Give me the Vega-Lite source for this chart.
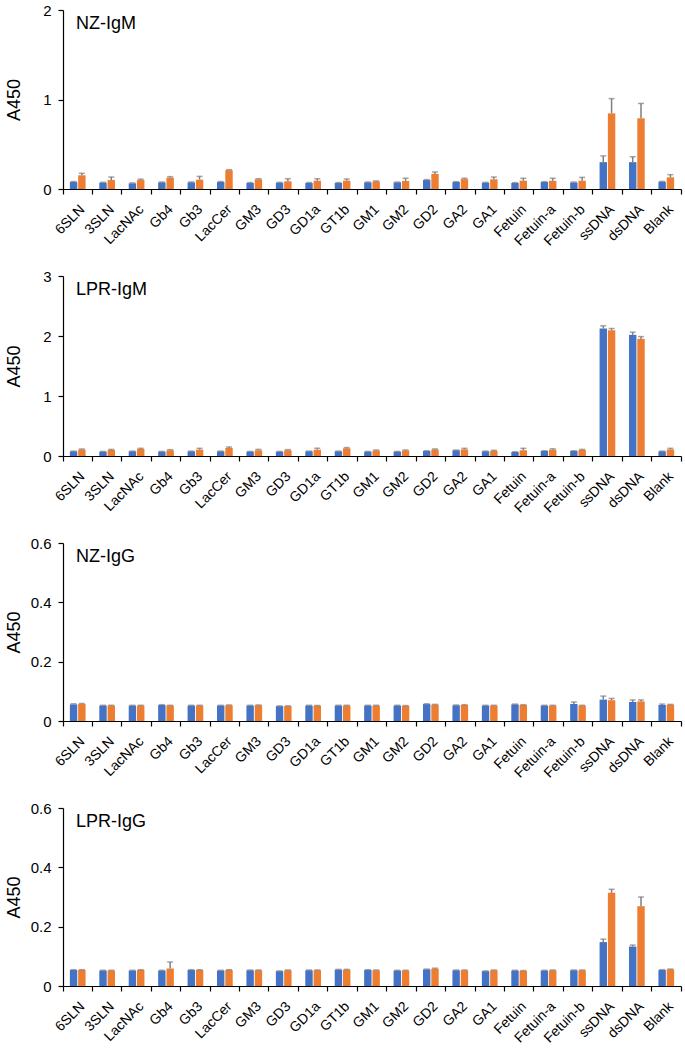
{
"$schema": "https://vega.github.io/schema/vega-lite/v6.json",
"padding": {"left": 5, "top": 3, "right": 5, "bottom": 0},
"spacing": 20,
"datasets": {
"nzm": [
{"c":"6SLN","g":"a","v":0.078,"e":0.083},{"c":"6SLN","g":"b","v":0.153,"e":0.175},
{"c":"3SLN","g":"a","v":0.07,"e":0.075},{"c":"3SLN","g":"b","v":0.10,"e":0.134},
{"c":"LacNAc","g":"a","v":0.063,"e":0.068},{"c":"LacNAc","g":"b","v":0.10,"e":0.11},
{"c":"Gb4","g":"a","v":0.074,"e":0.078},{"c":"Gb4","g":"b","v":0.127,"e":0.138},
{"c":"Gb3","g":"a","v":0.074,"e":0.079},{"c":"Gb3","g":"b","v":0.104,"e":0.141},
{"c":"LacCer","g":"a","v":0.078,"e":0.083},{"c":"LacCer","g":"b","v":0.21,"e":0.216},
{"c":"GM3","g":"a","v":0.067,"e":0.072},{"c":"GM3","g":"b","v":0.108,"e":0.115},
{"c":"GD3","g":"a","v":0.07,"e":0.074},{"c":"GD3","g":"b","v":0.086,"e":0.115},
{"c":"GD1a","g":"a","v":0.067,"e":0.072},{"c":"GD1a","g":"b","v":0.093,"e":0.115},
{"c":"GT1b","g":"a","v":0.067,"e":0.072},{"c":"GT1b","g":"b","v":0.093,"e":0.112},
{"c":"GM1","g":"a","v":0.074,"e":0.078},{"c":"GM1","g":"b","v":0.085,"e":0.09},
{"c":"GM2","g":"a","v":0.074,"e":0.078},{"c":"GM2","g":"b","v":0.089,"e":0.12},
{"c":"GD2","g":"a","v":0.10,"e":0.105},{"c":"GD2","g":"b","v":0.168,"e":0.19},
{"c":"GA2","g":"a","v":0.078,"e":0.082},{"c":"GA2","g":"b","v":0.11,"e":0.12},
{"c":"GA1","g":"a","v":0.07,"e":0.074},{"c":"GA1","g":"b","v":0.108,"e":0.134},
{"c":"Fetuin","g":"a","v":0.067,"e":0.071},{"c":"Fetuin","g":"b","v":0.093,"e":0.12},
{"c":"Fetuin-a","g":"a","v":0.078,"e":0.082},{"c":"Fetuin-a","g":"b","v":0.092,"e":0.12},
{"c":"Fetuin-b","g":"a","v":0.074,"e":0.078},{"c":"Fetuin-b","g":"b","v":0.092,"e":0.13},
{"c":"ssDNA","g":"a","v":0.30,"e":0.37},{"c":"ssDNA","g":"b","v":0.845,"e":1.01},
{"c":"dsDNA","g":"a","v":0.30,"e":0.36},{"c":"dsDNA","g":"b","v":0.79,"e":0.956},
{"c":"Blank","g":"a","v":0.08,"e":0.085},{"c":"Blank","g":"b","v":0.13,"e":0.16}
],
"lprm": [
{"c":"6SLN","g":"a","v":0.078,"e":0.082},{"c":"6SLN","g":"b","v":0.106,"e":0.117},
{"c":"3SLN","g":"a","v":0.072,"e":0.076},{"c":"3SLN","g":"b","v":0.10,"e":0.11},
{"c":"LacNAc","g":"a","v":0.078,"e":0.082},{"c":"LacNAc","g":"b","v":0.117,"e":0.128},
{"c":"Gb4","g":"a","v":0.072,"e":0.076},{"c":"Gb4","g":"b","v":0.095,"e":0.106},
{"c":"Gb3","g":"a","v":0.078,"e":0.082},{"c":"Gb3","g":"b","v":0.106,"e":0.128},
{"c":"LacCer","g":"a","v":0.078,"e":0.082},{"c":"LacCer","g":"b","v":0.134,"e":0.15},
{"c":"GM3","g":"a","v":0.072,"e":0.076},{"c":"GM3","g":"b","v":0.095,"e":0.11},
{"c":"GD3","g":"a","v":0.072,"e":0.076},{"c":"GD3","g":"b","v":0.095,"e":0.106},
{"c":"GD1a","g":"a","v":0.078,"e":0.082},{"c":"GD1a","g":"b","v":0.106,"e":0.128},
{"c":"GT1b","g":"a","v":0.078,"e":0.082},{"c":"GT1b","g":"b","v":0.128,"e":0.14},
{"c":"GM1","g":"a","v":0.072,"e":0.076},{"c":"GM1","g":"b","v":0.09,"e":0.10},
{"c":"GM2","g":"a","v":0.072,"e":0.076},{"c":"GM2","g":"b","v":0.09,"e":0.10},
{"c":"GD2","g":"a","v":0.084,"e":0.088},{"c":"GD2","g":"b","v":0.106,"e":0.117},
{"c":"GA2","g":"a","v":0.095,"e":0.099},{"c":"GA2","g":"b","v":0.11,"e":0.128},
{"c":"GA1","g":"a","v":0.078,"e":0.082},{"c":"GA1","g":"b","v":0.084,"e":0.095},
{"c":"Fetuin","g":"a","v":0.067,"e":0.071},{"c":"Fetuin","g":"b","v":0.095,"e":0.128},
{"c":"Fetuin-a","g":"a","v":0.084,"e":0.088},{"c":"Fetuin-a","g":"b","v":0.106,"e":0.12},
{"c":"Fetuin-b","g":"a","v":0.084,"e":0.088},{"c":"Fetuin-b","g":"b","v":0.10,"e":0.11},
{"c":"ssDNA","g":"a","v":2.125,"e":2.17},{"c":"ssDNA","g":"b","v":2.097,"e":2.125},
{"c":"dsDNA","g":"a","v":2.019,"e":2.064},{"c":"dsDNA","g":"b","v":1.952,"e":1.99},
{"c":"Blank","g":"a","v":0.078,"e":0.082},{"c":"Blank","g":"b","v":0.11,"e":0.128}
],
"nzg": [
{"c":"6SLN","g":"a","v":0.056,"e":0.058},{"c":"6SLN","g":"b","v":0.057,"e":0.059},
{"c":"3SLN","g":"a","v":0.052,"e":0.053},{"c":"3SLN","g":"b","v":0.052,"e":0.053},
{"c":"LacNAc","g":"a","v":0.052,"e":0.053},{"c":"LacNAc","g":"b","v":0.052,"e":0.053},
{"c":"Gb4","g":"a","v":0.054,"e":0.055},{"c":"Gb4","g":"b","v":0.052,"e":0.053},
{"c":"Gb3","g":"a","v":0.052,"e":0.053},{"c":"Gb3","g":"b","v":0.052,"e":0.053},
{"c":"LacCer","g":"a","v":0.052,"e":0.053},{"c":"LacCer","g":"b","v":0.053,"e":0.054},
{"c":"GM3","g":"a","v":0.052,"e":0.053},{"c":"GM3","g":"b","v":0.053,"e":0.054},
{"c":"GD3","g":"a","v":0.05,"e":0.051},{"c":"GD3","g":"b","v":0.05,"e":0.051},
{"c":"GD1a","g":"a","v":0.052,"e":0.053},{"c":"GD1a","g":"b","v":0.051,"e":0.052},
{"c":"GT1b","g":"a","v":0.052,"e":0.053},{"c":"GT1b","g":"b","v":0.052,"e":0.053},
{"c":"GM1","g":"a","v":0.052,"e":0.053},{"c":"GM1","g":"b","v":0.052,"e":0.053},
{"c":"GM2","g":"a","v":0.052,"e":0.053},{"c":"GM2","g":"b","v":0.051,"e":0.052},
{"c":"GD2","g":"a","v":0.057,"e":0.058},{"c":"GD2","g":"b","v":0.055,"e":0.056},
{"c":"GA2","g":"a","v":0.053,"e":0.054},{"c":"GA2","g":"b","v":0.054,"e":0.055},
{"c":"GA1","g":"a","v":0.052,"e":0.053},{"c":"GA1","g":"b","v":0.052,"e":0.053},
{"c":"Fetuin","g":"a","v":0.056,"e":0.057},{"c":"Fetuin","g":"b","v":0.054,"e":0.055},
{"c":"Fetuin-a","g":"a","v":0.052,"e":0.053},{"c":"Fetuin-a","g":"b","v":0.052,"e":0.053},
{"c":"Fetuin-b","g":"a","v":0.057,"e":0.064},{"c":"Fetuin-b","g":"b","v":0.052,"e":0.053},
{"c":"ssDNA","g":"a","v":0.072,"e":0.084},{"c":"ssDNA","g":"b","v":0.07,"e":0.076},
{"c":"dsDNA","g":"a","v":0.064,"e":0.071},{"c":"dsDNA","g":"b","v":0.066,"e":0.071},
{"c":"Blank","g":"a","v":0.054,"e":0.057},{"c":"Blank","g":"b","v":0.055,"e":0.056}
],
"lprg": [
{"c":"6SLN","g":"a","v":0.054,"e":0.055},{"c":"6SLN","g":"b","v":0.054,"e":0.055},
{"c":"3SLN","g":"a","v":0.052,"e":0.053},{"c":"3SLN","g":"b","v":0.052,"e":0.053},
{"c":"LacNAc","g":"a","v":0.052,"e":0.053},{"c":"LacNAc","g":"b","v":0.054,"e":0.055},
{"c":"Gb4","g":"a","v":0.052,"e":0.053},{"c":"Gb4","g":"b","v":0.059,"e":0.081},
{"c":"Gb3","g":"a","v":0.054,"e":0.055},{"c":"Gb3","g":"b","v":0.054,"e":0.055},
{"c":"LacCer","g":"a","v":0.052,"e":0.053},{"c":"LacCer","g":"b","v":0.054,"e":0.055},
{"c":"GM3","g":"a","v":0.053,"e":0.054},{"c":"GM3","g":"b","v":0.053,"e":0.054},
{"c":"GD3","g":"a","v":0.05,"e":0.051},{"c":"GD3","g":"b","v":0.053,"e":0.054},
{"c":"GD1a","g":"a","v":0.053,"e":0.054},{"c":"GD1a","g":"b","v":0.053,"e":0.054},
{"c":"GT1b","g":"a","v":0.055,"e":0.056},{"c":"GT1b","g":"b","v":0.055,"e":0.056},
{"c":"GM1","g":"a","v":0.054,"e":0.055},{"c":"GM1","g":"b","v":0.053,"e":0.054},
{"c":"GM2","g":"a","v":0.052,"e":0.053},{"c":"GM2","g":"b","v":0.052,"e":0.053},
{"c":"GD2","g":"a","v":0.056,"e":0.057},{"c":"GD2","g":"b","v":0.058,"e":0.06},
{"c":"GA2","g":"a","v":0.053,"e":0.054},{"c":"GA2","g":"b","v":0.053,"e":0.054},
{"c":"GA1","g":"a","v":0.05,"e":0.051},{"c":"GA1","g":"b","v":0.053,"e":0.054},
{"c":"Fetuin","g":"a","v":0.052,"e":0.053},{"c":"Fetuin","g":"b","v":0.051,"e":0.052},
{"c":"Fetuin-a","g":"a","v":0.052,"e":0.053},{"c":"Fetuin-a","g":"b","v":0.053,"e":0.054},
{"c":"Fetuin-b","g":"a","v":0.053,"e":0.054},{"c":"Fetuin-b","g":"b","v":0.053,"e":0.054},
{"c":"ssDNA","g":"a","v":0.148,"e":0.158},{"c":"ssDNA","g":"b","v":0.314,"e":0.326},
{"c":"dsDNA","g":"a","v":0.133,"e":0.138},{"c":"dsDNA","g":"b","v":0.269,"e":0.30},
{"c":"Blank","g":"a","v":0.054,"e":0.055},{"c":"Blank","g":"b","v":0.056,"e":0.057}
]
},
"vconcat": [
{
"width": 618, "height": 179,
"data": {"name": "nzm"},
"title": {"text": "NZ-IgM"},
"encoding": {
"x": {"field": "c", "type": "nominal", "sort": null, "scale": {"paddingInner": 0, "paddingOuter": 0}, "axis": {"bandPosition": 1, "tickExtra": true, "labelAngle": -45, "labelAlign": "right", "labelBaseline": "top", "labelFontSize": 14, "labelPadding": 8}},
"xOffset": {"field": "g", "type": "nominal", "scale": {"paddingInner": 0.108, "paddingOuter": 0.827}}
},
"layer": [
{"mark": {"type": "bar"}, "encoding": {"y": {"field": "v", "type": "quantitative", "title": "A450", "scale": {"domain": [0, 2]}, "axis": {"values": [0, 1, 2], "format": "~g"}}, "color": {"field": "g", "type": "nominal", "scale": {"domain": ["a", "b"], "range": ["#4472C4", "#ED7D31"]}, "legend": null}}},
{"mark": {"type": "rule", "color": "#7f7f7f", "strokeWidth": 1.5}, "encoding": {"y": {"field": "v", "type": "quantitative"}, "y2": {"field": "e"}}},
{"mark": {"type": "tick", "color": "#7f7f7f", "thickness": 1.5, "size": 6}, "encoding": {"y": {"field": "e", "type": "quantitative"}}}
]
},
{
"width": 618, "height": 180,
"data": {"name": "lprm"},
"title": {"text": "LPR-IgM"},
"encoding": {
"x": {"field": "c", "type": "nominal", "sort": null, "scale": {"paddingInner": 0, "paddingOuter": 0}, "axis": {"bandPosition": 1, "tickExtra": true, "labelAngle": -45, "labelAlign": "right", "labelBaseline": "top", "labelFontSize": 14, "labelPadding": 8}},
"xOffset": {"field": "g", "type": "nominal", "scale": {"paddingInner": 0.108, "paddingOuter": 0.827}}
},
"layer": [
{"mark": {"type": "bar"}, "encoding": {"y": {"field": "v", "type": "quantitative", "title": "A450", "scale": {"domain": [0, 3]}, "axis": {"values": [0, 1, 2, 3], "format": "~g"}}, "color": {"field": "g", "type": "nominal", "scale": {"domain": ["a", "b"], "range": ["#4472C4", "#ED7D31"]}, "legend": null}}},
{"mark": {"type": "rule", "color": "#7f7f7f", "strokeWidth": 1.5}, "encoding": {"y": {"field": "v", "type": "quantitative"}, "y2": {"field": "e"}}},
{"mark": {"type": "tick", "color": "#7f7f7f", "thickness": 1.5, "size": 6}, "encoding": {"y": {"field": "e", "type": "quantitative"}}}
]
},
{
"width": 618, "height": 178,
"data": {"name": "nzg"},
"title": {"text": "NZ-IgG"},
"encoding": {
"x": {"field": "c", "type": "nominal", "sort": null, "scale": {"paddingInner": 0, "paddingOuter": 0}, "axis": {"bandPosition": 1, "tickExtra": true, "labelAngle": -45, "labelAlign": "right", "labelBaseline": "top", "labelFontSize": 14, "labelPadding": 8}},
"xOffset": {"field": "g", "type": "nominal", "scale": {"paddingInner": 0.108, "paddingOuter": 0.827}}
},
"layer": [
{"mark": {"type": "bar"}, "encoding": {"y": {"field": "v", "type": "quantitative", "title": "A450", "scale": {"domain": [0, 0.6]}, "axis": {"values": [0, 0.2, 0.4, 0.6], "format": "~g"}}, "color": {"field": "g", "type": "nominal", "scale": {"domain": ["a", "b"], "range": ["#4472C4", "#ED7D31"]}, "legend": null}}},
{"mark": {"type": "rule", "color": "#7f7f7f", "strokeWidth": 1.5}, "encoding": {"y": {"field": "v", "type": "quantitative"}, "y2": {"field": "e"}}},
{"mark": {"type": "tick", "color": "#7f7f7f", "thickness": 1.5, "size": 6}, "encoding": {"y": {"field": "e", "type": "quantitative"}}}
]
},
{
"width": 618, "height": 178,
"data": {"name": "lprg"},
"title": {"text": "LPR-IgG"},
"encoding": {
"x": {"field": "c", "type": "nominal", "sort": null, "scale": {"paddingInner": 0, "paddingOuter": 0}, "axis": {"bandPosition": 1, "tickExtra": true, "labelAngle": -45, "labelAlign": "right", "labelBaseline": "top", "labelFontSize": 14, "labelPadding": 8}},
"xOffset": {"field": "g", "type": "nominal", "scale": {"paddingInner": 0.108, "paddingOuter": 0.827}}
},
"layer": [
{"mark": {"type": "bar"}, "encoding": {"y": {"field": "v", "type": "quantitative", "title": "A450", "scale": {"domain": [0, 0.6]}, "axis": {"values": [0, 0.2, 0.4, 0.6], "format": "~g"}}, "color": {"field": "g", "type": "nominal", "scale": {"domain": ["a", "b"], "range": ["#4472C4", "#ED7D31"]}, "legend": null}}},
{"mark": {"type": "rule", "color": "#7f7f7f", "strokeWidth": 1.5}, "encoding": {"y": {"field": "v", "type": "quantitative"}, "y2": {"field": "e"}}},
{"mark": {"type": "tick", "color": "#7f7f7f", "thickness": 1.5, "size": 6}, "encoding": {"y": {"field": "e", "type": "quantitative"}}}
]
}
],
"config": {
"view": {"stroke": null},
"font": "Liberation Sans",
"title": {"anchor": "start", "frame": "group", "fontSize": 18, "fontWeight": "normal", "color": "#000", "font": "Liberation Sans", "offset": 0, "dx": 13, "dy": 34, "baseline": "alphabetic"},
"axis": {"grid": false, "domainColor": "#000", "tickColor": "#000", "labelColor": "#000", "titleColor": "#000", "labelFont": "Liberation Sans", "titleFont": "Liberation Sans", "titleFontWeight": "normal", "domainWidth": 1.2, "tickWidth": 1.2, "tickSize": 5},
"axisX": {"title": null, "labelFontSize": 14},
"axisY": {"labelFontSize": 15, "titleFontSize": 18, "labelPadding": 7, "titlePadding": 4, "titleX": -40}
}
}
